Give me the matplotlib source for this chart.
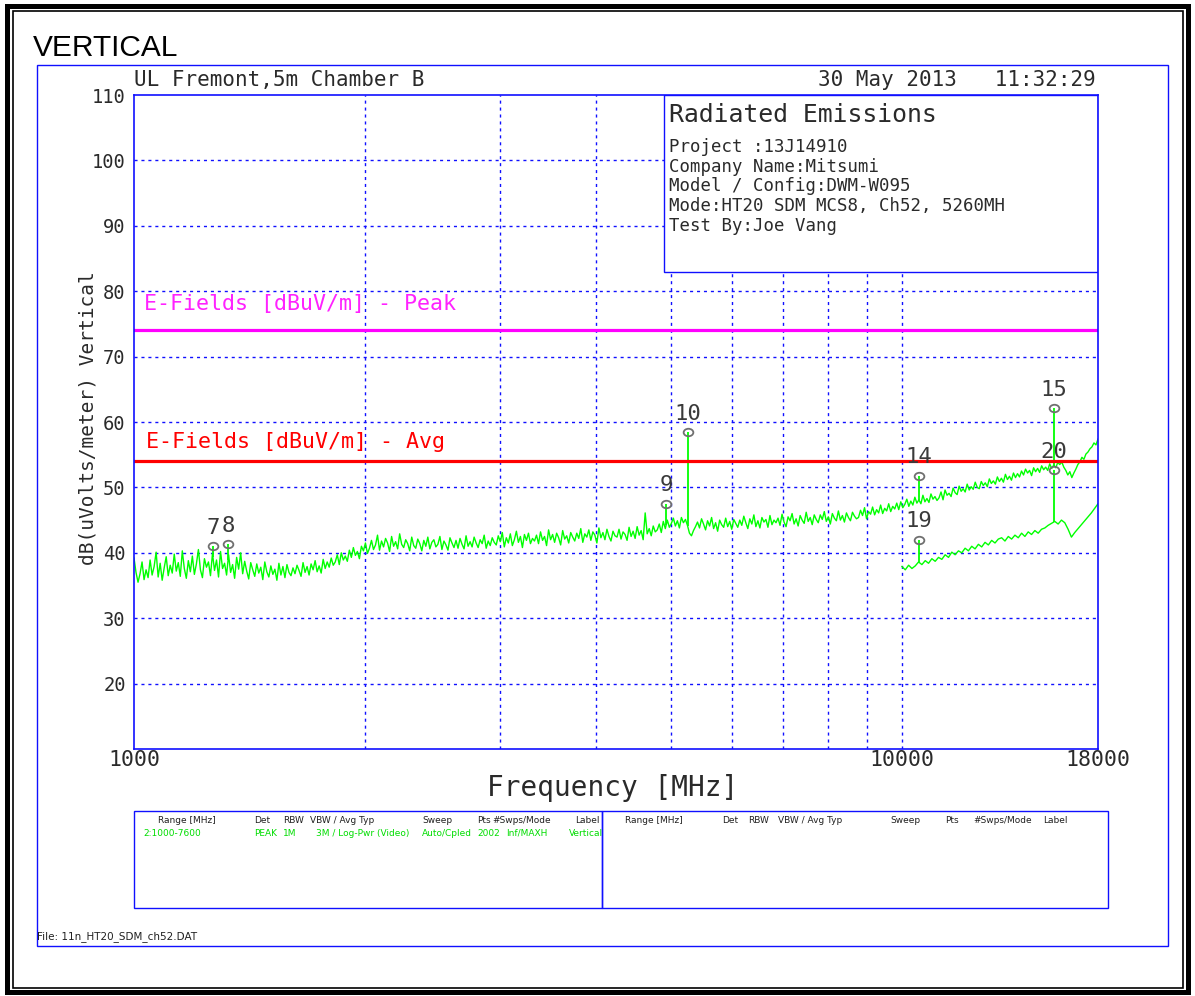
import numpy as np
import matplotlib
matplotlib.use("Agg")
import matplotlib.pyplot as plt
from matplotlib.patches import Rectangle
from matplotlib.path import Path
from matplotlib.transforms import Affine2D
from matplotlib import font_manager

W, H = 1195, 996

# ---- sweep data -------------------------------------------------------------
FREQ_START_MHZ = 1000
FREQ_STOP_MHZ = 18000
AVG_START_MHZ = 10000

# Peak detector trace, dBuV/m, evenly spaced (log) across the sweep
PEAK_TRACE = [
    39.2, 37.0, 35.5, 36.8, 38.6, 35.9, 37.4, 36.2, 38.9, 36.6, 37.9, 40.1, 36.3, 38.4, 35.8, 37.7, 39.4, 36.5, 38.1, 36.9,
    39.8, 37.2, 38.5, 36.4, 40.3, 37.6, 36.1, 38.8, 37.1, 39.5, 36.7, 38.3, 40.5, 37.4, 36.2, 39.1, 37.8, 38.6, 36.5, 39.9,
    37.3, 38.9, 36.3, 40.2, 37.6, 38.4, 36.6, 39.7, 37.0, 38.2, 36.1, 39.3, 37.5, 40.0, 36.8, 38.7, 37.2, 36.0, 38.5, 37.4,
    36.4, 38.3, 36.9, 37.8, 35.9, 38.6, 37.1, 36.3, 38.0, 36.7, 37.5, 35.8, 38.4, 36.6, 37.9, 36.2, 38.2, 37.0, 36.5, 37.7,
    36.8, 38.1, 37.3, 36.4, 38.5, 37.0, 37.9, 36.6, 38.3, 37.4, 38.8, 37.1, 38.0, 36.9, 39.0, 37.6, 38.6, 37.8, 39.2, 38.1,
    38.6, 39.7, 38.2, 40.0, 38.9, 39.5, 38.7, 40.4, 39.3, 40.8, 39.6, 40.2, 39.1, 41.0, 40.3, 41.5, 39.9, 40.7, 41.9, 40.5,
    41.2, 42.7, 40.4, 41.8, 40.9, 42.2, 41.5, 40.2, 42.5, 41.0, 41.7, 40.6, 42.9, 41.3, 40.8, 42.0, 41.4, 40.3, 42.4, 41.1,
    40.7, 42.1, 41.4, 40.3, 41.9, 41.0, 42.4, 40.6, 41.6, 42.0, 40.9, 41.3, 42.5, 40.5, 41.8, 41.2, 40.4, 42.3, 41.5, 40.8,
    41.9, 40.7, 42.2, 41.3, 40.6, 42.6, 41.0, 41.7, 40.9, 42.4, 41.5, 40.8, 42.0, 41.4, 42.7, 40.7, 41.8, 41.1, 42.3, 41.6,
    41.2, 42.6, 41.7, 43.1, 40.9, 42.3, 41.5, 42.9, 41.1, 42.0, 43.3, 41.6, 42.5, 40.8, 42.8, 41.9, 43.0, 41.4, 42.2, 41.8,
    42.7, 41.4, 43.2, 41.9, 42.5, 41.1, 43.5, 42.0, 42.8, 41.6, 43.0, 42.3, 41.2, 43.4, 42.1, 42.6, 41.5, 43.1, 42.4, 41.8,
    43.0, 42.2, 43.7, 41.6, 42.9, 42.4, 43.5, 41.9, 43.2, 42.7, 41.5, 43.8, 42.3, 43.1, 42.0, 43.6, 42.5, 41.8, 43.3, 42.6,
    42.4, 43.6, 42.1, 43.2, 42.8, 41.9, 43.9, 42.5, 43.3, 42.2, 44.0, 42.7, 43.4, 42.0, 46.1, 42.9, 43.7, 42.6, 44.1, 43.2,
    43.5, 44.4, 43.1, 44.8, 43.7, 45.0, 43.9, 44.5, 45.3, 44.1, 44.9, 43.8, 45.4, 44.6, 45.1, 44.2, 43.0, 42.6, 43.4, 44.0,
    44.7, 43.8, 45.2, 44.4, 43.5, 44.9, 44.1, 45.4, 43.7, 44.6, 43.3, 45.0, 44.3, 43.9, 45.3, 44.0, 44.8, 43.6, 45.1, 44.5,
    43.9, 45.0, 44.2, 45.6, 44.6, 43.7, 45.2, 44.4, 45.8, 44.0, 44.9, 43.8, 45.4, 44.7, 45.1, 43.9, 45.7, 44.3, 45.0, 44.6,
    45.3, 44.2, 45.9, 44.7, 44.0, 45.5, 44.9, 46.0, 44.4, 45.2, 44.1, 45.7, 45.0, 44.5, 46.2, 44.8, 45.4, 44.3, 45.8, 45.1,
    44.6, 45.8, 45.1, 46.3, 44.8, 45.5, 44.4, 46.0, 45.3, 44.9, 46.4, 45.0, 45.7, 44.7, 46.1, 45.4, 44.9, 46.2, 45.6, 45.2,
    45.4, 46.5, 45.7, 46.9, 45.2, 46.3, 45.9, 47.0, 45.8, 46.6, 46.1, 47.3, 46.0, 46.8, 46.4, 47.5, 46.3, 47.1, 46.7, 47.6,
    46.6, 47.8, 46.9, 47.4, 48.2, 47.1, 47.9, 47.3, 48.5, 47.6, 48.1, 47.5, 48.8, 47.8, 48.3, 47.7, 49.0, 48.2, 48.6, 48.0,
    48.4, 49.3, 48.1, 49.6, 48.8, 49.1, 48.6, 49.9, 49.2, 48.9, 50.2, 49.4, 49.8, 49.3, 50.5, 49.6, 50.1, 49.7, 50.8, 50.0,
    49.8, 50.9, 50.3, 50.7, 50.1, 51.3, 50.6, 51.0, 50.5, 51.6, 50.9, 51.4, 50.8, 52.0, 51.2, 51.7, 51.1, 52.2, 51.5, 52.1,
    51.6, 52.5, 51.9, 52.8, 52.2, 52.6, 51.8, 53.0, 52.4, 52.9, 52.3, 53.3, 52.7, 53.1, 52.6, 53.6, 52.9, 53.4, 53.0, 53.8,
    53.5, 53.9, 53.1, 52.6, 51.9, 52.4, 51.5, 52.2, 52.8, 53.5, 53.9, 54.6, 54.3, 55.1, 55.4, 55.9, 56.2, 56.8, 56.5, 57.4,
]

# Average detector trace, dBuV/m, 10 GHz to 18 GHz
AVG_TRACE = [
    37.9, 37.4, 38.1, 37.6, 38.0, 38.6, 38.2, 38.8, 38.4, 39.1, 38.7, 39.3, 39.0, 39.7, 39.3,
    40.1, 39.7, 40.3, 40.0, 40.7, 40.3, 41.0, 40.6, 41.3, 40.9, 41.6, 41.2, 41.9, 41.5, 42.1,
    42.3, 41.8, 42.5, 42.1, 42.7, 42.3, 43.0, 42.5, 43.2, 42.8, 43.4, 43.0, 43.6, 43.8, 44.2,
    44.5, 44.8, 44.4, 45.0, 44.6, 43.6, 42.4, 43.1, 43.7, 44.3, 44.9, 45.5, 46.1, 46.8, 47.5,
]

LIMIT_PEAK = 74.0
LIMIT_AVG = 54.0
LIMIT_LABELS = ["E-Fields [dBuV/m] - Peak", "E-Fields [dBuV/m] - Avg"]

MARKER_IDS = ["7", "8", "9", "10", "14", "15", "19", "20"]
MARKER_FREQ = [1267, 1326, 4930, 5260, 10520, 15780, 10520, 15780]
MARKER_LEVEL = [41.0, 41.3, 47.5, 58.4, 51.8, 62.1, 42.0, 52.6]
MARKER_TRACE = ["peak", "peak", "peak", "peak", "peak", "peak", "avg", "avg"]

Y_TICKS = [20, 30, 40, 50, 60, 70, 80, 90, 100, 110]
X_TICKS = [1000, 10000, 18000]
GRID_FREQS = [2000, 3000, 4000, 5000, 6000, 7000, 8000, 9000, 10000]
GRID_LEVELS = [20, 30, 40, 50, 60, 70, 80, 90, 100]

HEADER_LEFT = "UL Fremont,5m Chamber B"
HEADER_RIGHT = "30 May 2013   11:32:29"
INFO_TITLE = "Radiated Emissions"
INFO_LINES = [
    "Project :13J14910",
    "Company Name:Mitsumi",
    "Model / Config:DWM-W095",
    "Mode:HT20 SDM MCS8, Ch52, 5260MH",
    "Test By:Joe Vang",
]
TABLE_HEADERS = ["Range [MHz]", "Det", "RBW", "VBW / Avg Typ", "Sweep", "Pts", "#Swps/Mode", "Label"]
TABLE_ROW = ["2:1000-7600", "PEAK", "1M", "3M / Log-Pwr (Video)", "Auto/Cpled", "2002", "Inf/MAXH", "Vertical"]
FILE_NAME = "File: 11n_HT20_SDM_ch52.DAT"

# ---- styling ----------------------------------------------------------------
BLUE = "#1010ff"
GREEN = "#00ff00"
MONO = "DejaVu Sans Mono"
TXT = "#2a2a2a"

installed = {f.name for f in font_manager.fontManager.ttflist}
NARROW = ["Liberation Sans Narrow"] if "Liberation Sans Narrow" in installed else ["DejaVu Sans"]
NARROW_SIZE = 8 if NARROW[0] == "Liberation Sans Narrow" else 6.5


def fx(x):
    return x / W


def fy(y):
    return 1 - y / H


def frame(fig, x0, y0, x1, y1, color, lw):
    r = Rectangle((fx(x0), fy(y1)), (x1 - x0) / W, (y1 - y0) / H,
                  transform=fig.transFigure, fill=False, ec=color, lw=lw)
    fig.add_artist(r)
    return r


fig = plt.figure(figsize=(W / 100, H / 100), dpi=100)
fig.patch.set_facecolor("white")

# page borders
frame(fig, 7, 6, 1188, 992, "black", 3.6)
frame(fig, 12.5, 11.5, 1183, 987.5, "black", 1.2)
frame(fig, 37, 65, 1168, 946, BLUE, 1.0)

fig.text(fx(33), fy(48), "VERTICAL", family="Liberation Sans", fontsize=21.5,
         ha="left", va="center", color="black")

# ---- main plot --------------------------------------------------------------
ax = fig.add_axes([fx(134), fy(749), 964 / W, 654 / H])
ax.set_xscale("log")
ax.set_xlim(FREQ_START_MHZ, FREQ_STOP_MHZ)
ax.set_ylim(10, 110)
for s in ax.spines.values():
    s.set_color(BLUE)
    s.set_linewidth(1.2)
    s.set_zorder(6)

ax.set_yticks(Y_TICKS)
ax.set_yticklabels([str(v) for v in Y_TICKS], family=MONO, fontsize=13.5, color=TXT)
ax.set_xticks(X_TICKS)
ax.set_xticklabels([str(v) for v in X_TICKS], family=MONO, fontsize=15.5, color=TXT)
ax.xaxis.set_minor_locator(matplotlib.ticker.NullLocator())
ax.tick_params(axis="both", length=0)
ax.tick_params(axis="y", pad=6)
ax.tick_params(axis="x", pad=1)

for f in GRID_FREQS:
    ax.axvline(f, color=BLUE, lw=1.0, ls=(0, (2.2, 2.8)), zorder=1)
for lv in GRID_LEVELS:
    ax.axhline(lv, color=BLUE, lw=1.0, ls=(0, (2.2, 2.8)), zorder=1)

# info box
ax.add_patch(Rectangle((0.5498, 0.7294), 0.4502, 0.2706, transform=ax.transAxes,
                       fc="white", ec=BLUE, lw=1.0, zorder=3))

# limit lines
ax.axhline(LIMIT_PEAK, color="#ff00ff", lw=2.3, zorder=4)
ax.axhline(LIMIT_AVG, color="#ff0000", lw=2.3, zorder=5)

# traces
peak_freq = np.geomspace(FREQ_START_MHZ, FREQ_STOP_MHZ, len(PEAK_TRACE))
avg_freq = np.geomspace(AVG_START_MHZ, FREQ_STOP_MHZ, len(AVG_TRACE))
ax.plot(peak_freq, PEAK_TRACE, color=GREEN, lw=1.0, zorder=4)
ax.plot(avg_freq, AVG_TRACE, color=GREEN, lw=1.0, zorder=4)

# markers with their spikes
mk = Path.unit_circle().transformed(Affine2D().scale(1.3, 1.0))
for mid, f, lv, tr in zip(MARKER_IDS, MARKER_FREQ, MARKER_LEVEL, MARKER_TRACE):
    if tr == "peak":
        base = np.interp(np.log10(f), np.log10(peak_freq), PEAK_TRACE)
    else:
        base = np.interp(np.log10(f), np.log10(avg_freq), AVG_TRACE)
    ax.vlines(f, base, lv, color=GREEN, lw=1.3, zorder=4)
    ax.plot([f], [lv], marker=mk, ms=7, mfc="none", mec="#707070", mew=1.3, zorder=7)
    ax.annotate(mid, (f, lv), xytext=(0, 13.5), textcoords="offset points",
                ha="center", va="center", family=MONO, fontsize=16,
                color="#3a3a3a", zorder=8)

# ---- texts around the plot --------------------------------------------------
fig.text(fx(134), fy(80), HEADER_LEFT, family=MONO, fontsize=15, color=TXT,
         ha="left", va="center")
fig.text(fx(1096), fy(80), HEADER_RIGHT, family=MONO, fontsize=15, color=TXT,
         ha="right", va="center")
fig.text(fx(88), fy(418), "dB(uVolts/meter) Vertical", family=MONO, fontsize=14,
         color=TXT, rotation=90, ha="center", va="center")
fig.text(fx(613), fy(788), "Frequency [MHz]", family=MONO, fontsize=20,
         color=TXT, ha="center", va="center")

fig.text(fx(669), fy(115), INFO_TITLE, family=MONO, fontsize=17.8, color=TXT,
         ha="left", va="center")
for i, line in enumerate(INFO_LINES):
    fig.text(fx(669), fy(147 + i * 19.7), line, family=MONO, fontsize=12.5,
             color=TXT, ha="left", va="center")

fig.text(fx(144), fy(304), LIMIT_LABELS[0], family=MONO, fontsize=15.6,
         color="#ff22ff", ha="left", va="center")
fig.text(fx(146), fy(442), LIMIT_LABELS[1], family=MONO, fontsize=15.6,
         color="#ff0000", ha="left", va="center")

# ---- sweep settings tables --------------------------------------------------
left_box = frame(fig, 134, 811, 602, 908, BLUE, 1.0)
frame(fig, 602, 811, 1108, 908, BLUE, 1.0)

left_head_x = [158, 254, 283, 310, 422, 477, 492, 575]
left_row_x = [143, 254, 283, 316, 422, 477, 506, 569]
right_head_x = [625, 722, 748, 778, 890, 945, 973, 1043]
for hx, h in zip(left_head_x, TABLE_HEADERS):
    fig.text(fx(hx), fy(820), h, family=NARROW, fontsize=NARROW_SIZE,
             color="#202020", ha="left", va="center")
for hx, h in zip(right_head_x, TABLE_HEADERS):
    fig.text(fx(hx), fy(820), h, family=NARROW, fontsize=NARROW_SIZE,
             color="#202020", ha="left", va="center")
for rx, v in zip(left_row_x, TABLE_ROW):
    t = fig.text(fx(rx), fy(833), v, family=NARROW, fontsize=NARROW_SIZE,
                 color="#00dd00", ha="left", va="center")
    t.set_clip_path(left_box)

fig.text(fx(37), fy(937), FILE_NAME, family=NARROW, fontsize=NARROW_SIZE + 1,
         color="#202020", ha="left", va="center")

fig.savefig("out.png", dpi=100)
